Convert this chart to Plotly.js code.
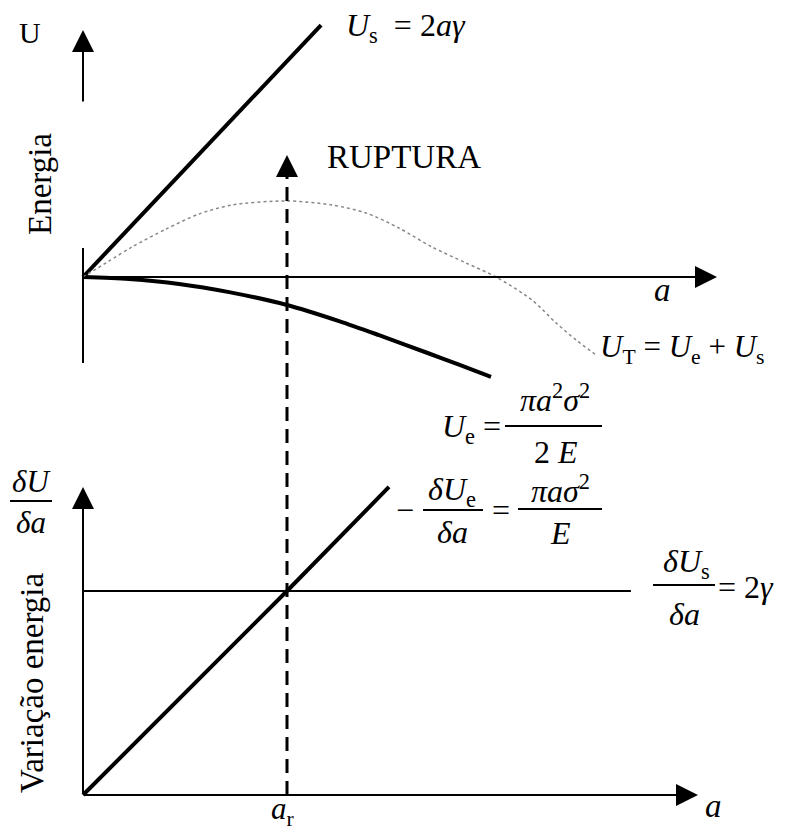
<!DOCTYPE html>
<html>
<head>
<meta charset="utf-8">
<script src="https://cdn.plot.ly/plotly-3.0.1.min.js"></script>
<style>body { margin: 0; background: #fff; }</style>
</head>
<body>
<div id="myDiv" style="width:787px;height:834px"></div>
<script>
// crack length a, measured so that the critical length a_r = 1
const aCritical = 1;

// upper panel: energies
const aSurface = [0, 1.167];
const uSurface = [0, 1.235];

const aElastic = [0, 0.225, 0.471, 0.716, 1.0, 1.255, 1.451, 1.696, 1.843, 2.0];
const uElastic = [0, -0.010, -0.034, -0.074, -0.137, -0.216, -0.285, -0.375, -0.430, -0.490];

const aTotal = [0, 0.127, 0.240, 0.407, 0.569, 0.730, 1.0, 1.221, 1.387, 1.549, 1.711, 1.877, 2.025, 2.201, 2.319, 2.417, 2.515];
const uTotal = [0, 0.078, 0.147, 0.235, 0.309, 0.353, 0.373, 0.353, 0.314, 0.240, 0.147, 0.069, 0, -0.113, -0.225, -0.309, -0.382];

// lower panel: energy rates
const aRate = [0, 1, 1.5];
const dUeRate = [0, 1, 1.51];
const aGamma = [0, 2.686];
const dUsRate = [1, 1];

// page geometry (pixels)
const W = 787, H = 834;
const S = 204;          // pixels per unit
const X0 = 83;          // pixel column of a = 0
const Y0top = 277;      // pixel row of U = 0
const Y0bot = 795;      // pixel row of dU/da = 0
const SERIF = 'Liberation Serif';
const SP = '\u00a0';    // spaces that svg keeps

const px2a = (px) => (px - X0) / S;
const py2top = (py) => (Y0top - py) / S;
const py2bot = (py) => (Y0bot - py) / S;

const thick = { color: '#000', width: 4 };

const data = [
  { x: aSurface, y: uSurface, mode: 'lines', line: thick },
  { x: aElastic, y: uElastic, mode: 'lines', line: Object.assign({ shape: 'spline', smoothing: 0.8 }, thick) },
  { x: aTotal, y: uTotal, mode: 'lines', line: { color: '#888', width: 1.5, dash: 'dot', shape: 'spline', smoothing: 0.8 } },
  // broken lower part of the U axis
  { x: [0, 0], y: [py2top(363), py2top(248)], mode: 'lines', line: { color: '#000', width: 2 } },
  // lower panel
  { x: aGamma, y: dUsRate, yaxis: 'y2', mode: 'lines', line: { color: '#000', width: 2 } },
  { x: aRate, y: dUeRate, yaxis: 'y2', mode: 'lines', line: thick },
  { x: [aCritical, aCritical], y: [0, py2bot(175)], yaxis: 'y2', mode: 'lines',
    line: { color: '#000', width: 3, dash: '14px,8px' } },
].map(t => Object.assign({ showlegend: false, hoverinfo: 'skip' }, t));

function arrow(x, y, ax, ay, yr) {
  return { x: x, y: y, ax: ax, ay: ay, xref: 'x', yref: yr, axref: 'x', ayref: yr,
    text: '', showarrow: true, arrowhead: 2, arrowsize: 2.2, arrowwidth: 2, arrowcolor: '#000', standoff: 0 };
}

function label(text, px, py, size, extra) {
  return Object.assign({ text: text, x: px / W, y: 1 - py / H, xref: 'paper', yref: 'paper',
    showarrow: false, xanchor: 'center', yanchor: 'middle',
    font: { family: SERIF, size: size, color: '#000' } }, extra || {});
}

function bar(x1, x2, py) {
  return { type: 'line', xref: 'paper', yref: 'paper', x0: x1 / W, x1: x2 / W, y0: 1 - py / H, y1: 1 - py / H,
    line: { color: '#000', width: 2 } };
}

const annotations = [
  // axes
  arrow(0, py2top(30), 0, py2top(103), 'y'),
  arrow(px2a(717), 0, 0, 0, 'y'),
  arrow(0, py2bot(487), 0, 0, 'y2'),
  arrow(px2a(698), 0, 0, 0, 'y2'),
  arrow(aCritical, py2bot(155), aCritical, py2bot(180), 'y2'),

  // upper panel text
  label('U', 30, 33, 30),
  label('Energia', 40, 184, 33, { textangle: -90 }),
  label('<i>U</i><sub>s</sub>' + SP + ' = 2<i>aγ</i>', 344, 27, 32, { xanchor: 'left' }),
  label('RUPTURA', 325, 157, 33, { xanchor: 'left' }),
  label('<i>a</i>', 662, 290, 33),
  label('<i>U</i><sub>T</sub> = <i>U</i><sub>e</sub> + <i>U</i><sub>s</sub>', 598, 349, 31, { xanchor: 'left' }),

  label('<i>U</i><sub>e</sub> =', 503, 428, 32, { xanchor: 'right' }),
  label('<i>πa</i><sup>2</sup><i>σ</i><sup>2</sup>', 555, 398, 32),
  label('2' + SP + '<i>E</i>', 556, 452, 32),

  label('−', 405, 510, 32),
  label('<i>δU</i><sub>e</sub>', 452, 491, 32),
  label('<i>δa</i>', 452, 532, 32),
  label('=', 501, 510, 32),
  label('<i>πaσ</i><sup>2</sup>', 560, 489, 32),
  label('<i>E</i>', 560, 533, 32),

  // lower panel text
  label('<i>δU</i>', 31, 482, 31),
  label('<i>δa</i>', 31, 522, 31),
  label('Variação energia', 32, 683, 33, { textangle: -90 }),
  label('<i>δU</i><sub>s</sub>', 686, 563, 32),
  label('<i>δa</i>', 684, 614, 32),
  label('= 2<i>γ</i>', 716, 587, 32, { xanchor: 'left' }),
  label('<i>a</i>', 713, 806, 33),
  label('<i>a</i><sub>r</sub>', 283, 811, 31),
];

const shapes = [
  bar(505, 602, 426),
  bar(423, 483, 510),
  bar(518, 602, 509),
  bar(10, 52, 501),
  bar(653, 715, 585),
];

const layout = {
  width: W,
  height: H,
  margin: { l: 0, r: 0, t: 0, b: 0 },
  paper_bgcolor: '#fff',
  plot_bgcolor: '#fff',
  font: { family: SERIF },
  xaxis: { range: [px2a(0), px2a(W)], visible: false, fixedrange: true },
  yaxis: { range: [py2top(H), py2top(0)], visible: false, fixedrange: true },
  yaxis2: { range: [py2bot(H), py2bot(0)], overlaying: 'y', visible: false, fixedrange: true },
  annotations: annotations,
  shapes: shapes,
};

Plotly.newPlot('myDiv', data, layout, { displayModeBar: false, staticPlot: true });
</script>
</body>
</html>
